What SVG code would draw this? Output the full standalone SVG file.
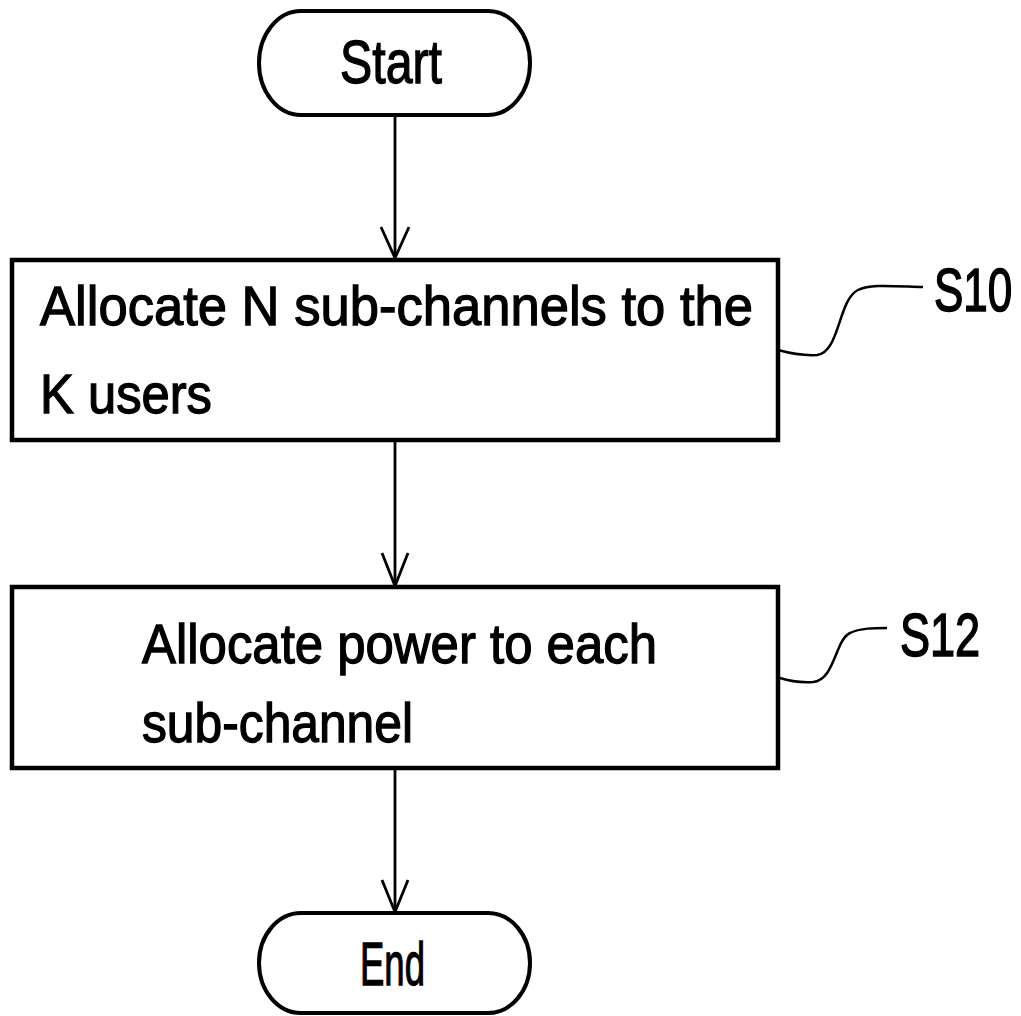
<svg xmlns="http://www.w3.org/2000/svg" width="1021" height="1016" viewBox="0 0 1021 1016">
<style>
.box{fill:#fff;stroke:#000;stroke-width:4.5}
.term{fill:#fff;stroke:#000;stroke-width:4}
.conn{fill:none;stroke:#000;stroke-width:2.8}
.lead{fill:none;stroke:#000;stroke-width:2.5}
text{font-family:"Liberation Sans","DejaVu Sans",sans-serif;fill:#000;stroke:#000;stroke-width:1.3}
.t{font-size:56px}
.big{font-size:62px}
.lbl{font-size:62px;stroke-width:1.6}
</style>
<rect width="1021" height="1016" fill="#fff"/>
<g id="connectors">
<line class="conn" x1="395" y1="115" x2="395" y2="258"/>
<path class="conn" d="M395,258 L381,227 M395,258 L409,227"/>
<line class="conn" x1="395" y1="440" x2="395" y2="586"/>
<path class="conn" d="M395,586 L382,553 M395,586 L408,553"/>
<line class="conn" x1="395" y1="768" x2="395" y2="912"/>
<path class="conn" d="M395,912 L382,880 M395,912 L408,880"/>
</g>
<g id="start">
<rect class="term" x="259" y="11" width="271" height="104" rx="42" ry="52"/>
<text class="big" x="340" y="83" textLength="102" lengthAdjust="spacingAndGlyphs">Start</text>
</g>
<g id="s10">
<rect class="box" x="12" y="260" width="766" height="180"/>
<text class="t" x="40" y="325" textLength="713" lengthAdjust="spacingAndGlyphs">Allocate N sub-channels to the</text>
<text class="t" x="40" y="413" textLength="172" lengthAdjust="spacingAndGlyphs">K users</text>
</g>
<g id="s10-label">
<path class="lead" d="M778,350 Q800,356 817,355 C840,352 838,300 858,290 C870,284 890,286 923,287"/>
<text class="lbl" transform="translate(934,311) scale(0.71,1)" x="0" y="0">S10</text>
</g>
<g id="s12">
<rect class="box" x="12" y="587" width="766" height="181"/>
<text class="t" x="142" y="663" textLength="515" lengthAdjust="spacingAndGlyphs">Allocate power to each</text>
<text class="t" x="142" y="742" textLength="271" lengthAdjust="spacingAndGlyphs">sub-channel</text>
</g>
<g id="s12-label">
<path class="lead" d="M780,678 Q795,683 813,682 C835,680 835,640 850,633 C860,628 875,628 887,628"/>
<text class="lbl" transform="translate(900,656) scale(0.727,1)" x="0" y="0">S12</text>
</g>
<g id="end">
<rect class="term" x="259" y="913" width="271" height="100" rx="42" ry="50"/>
<text class="big" x="360" y="985" textLength="65" lengthAdjust="spacingAndGlyphs">End</text>
</g>
</svg>
